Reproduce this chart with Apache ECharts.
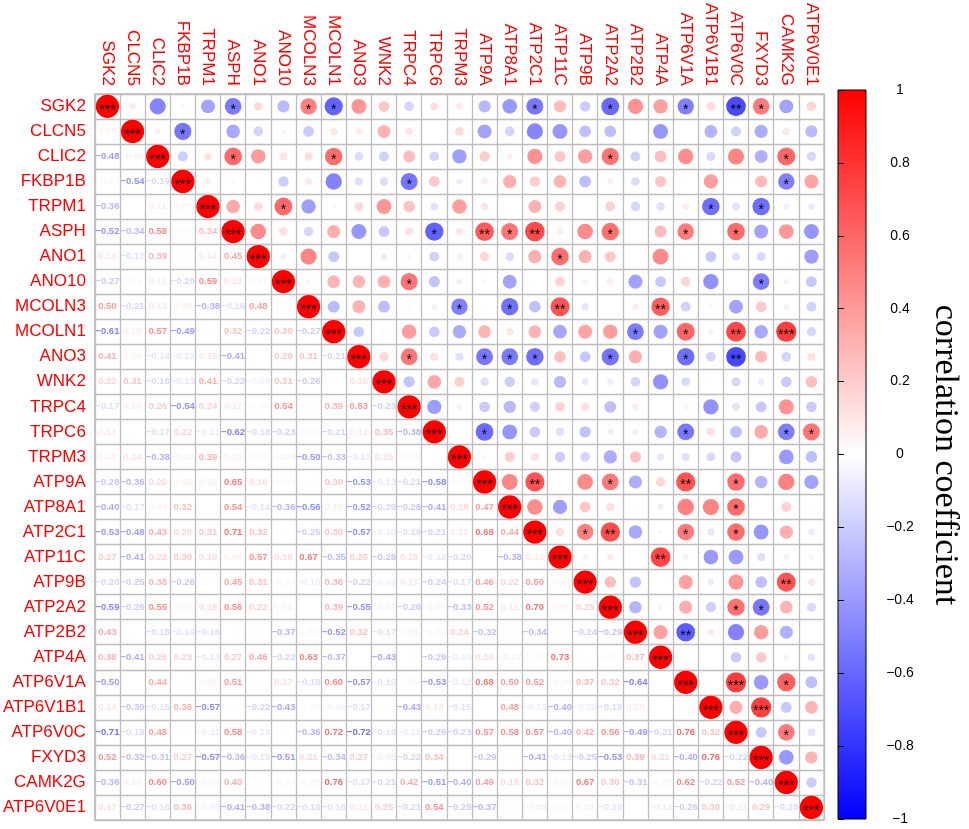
<!DOCTYPE html>
<html>
<head>
<meta charset="utf-8">
<script src="https://cdn.jsdelivr.net/npm/echarts@6/dist/echarts.min.js"></script>
<style>
  html, body { margin: 0; padding: 0; background: #ffffff; }
  #chart { width: 969px; height: 829px; }
</style>
</head>
<body>
<div id="chart"></div>
<script>
// ---------- data ----------
const vars = ['SGK2','CLCN5','CLIC2','FKBP1B','TRPM1','ASPH','ANO1','ANO10','MCOLN3','MCOLN1',
  'ANO3','WNK2','TRPC4','TRPC6','TRPM3','ATP9A','ATP8A1','ATP2C1','ATP11C','ATP9B',
  'ATP2A2','ATP2B2','ATP4A','ATP6V1A','ATP6V1B1','ATP6V0C','FXYD3','CAMK2G','ATP6V0E1'];

// lower triangle: correlation of each row variable with the preceding variables
const SGK2 = [];
const CLCN5 = [0.08];
const CLIC2 = [-0.48, -0.06];
const FKBP1B = [-0.04, -0.54, -0.19];
const TRPM1 = [-0.36, 0.01, 0.11, 0.07];
const ASPH = [-0.52, -0.34, 0.58, -0.03, 0.34];
const ANO1 = [0.14, -0.17, 0.39, 0.02, 0.14, 0.45];
const ANO10 = [-0.27, 0.05, 0.11, -0.20, 0.59, 0.13, 0.07];
const MCOLN3 = [0.50, -0.21, 0.13, 0.09, -0.38, -0.16, 0.48, 0.05];
const MCOLN1 = [-0.61, 0.10, 0.57, -0.49, 0.03, 0.32, -0.22, 0.30, -0.27];
const ANO3 = [0.41, 0.08, -0.14, -0.12, 0.15, -0.41, 0.01, 0.29, 0.31, -0.21];
const WNK2 = [0.22, 0.31, -0.18, -0.13, 0.41, -0.22, -0.08, 0.31, -0.26, 0.03, 0.16];
const TRPC4 = [-0.17, 0.10, 0.26, -0.54, 0.24, 0.12, -0.04, 0.54, 0.03, 0.39, 0.53, -0.23];
const TRPC6 = [0.13, 0.01, -0.17, 0.22, -0.11, -0.62, -0.18, -0.23, -0.05, -0.21, 0.12, 0.35, -0.38];
const TRPM3 = [0.09, 0.14, -0.38, -0.07, 0.39, 0.10, 0.07, -0.06, -0.50, -0.33, -0.12, 0.19, -0.05, 0.01];
const ATP9A = [-0.28, -0.36, 0.20, 0.08, 0.10, 0.65, 0.16, -0.04, -0.02, 0.30, -0.53, -0.13, -0.21, -0.58, -0.04];
const ATP8A1 = [-0.40, -0.17, 0.07, 0.32, 0.01, 0.54, -0.14, -0.36, -0.56, 0.10, -0.52, -0.20, -0.28, -0.41, 0.19, 0.47];
const ATP2C1 = [-0.53, -0.48, 0.43, 0.20, 0.31, 0.71, 0.32, -0.01, -0.25, 0.30, -0.57, -0.10, -0.19, -0.21, 0.12, 0.68, 0.44];
const ATP11C = [0.27, -0.41, 0.22, 0.30, 0.19, 0.08, 0.57, 0.18, 0.67, -0.35, 0.25, -0.28, 0.18, -0.12, -0.20, 0.01, -0.38, 0.13];
const ATP9B = [-0.20, -0.25, 0.38, -0.26, 0.01, 0.45, 0.31, -0.05, -0.10, 0.36, -0.22, -0.09, 0.13, -0.24, -0.17, 0.46, 0.22, 0.50, 0.06];
const ATP2A2 = [-0.59, -0.26, 0.55, 0.07, 0.18, 0.56, 0.22, 0.08, 0.01, 0.39, -0.55, -0.07, -0.26, -0.07, -0.33, 0.52, 0.12, 0.70, 0.08, 0.25];
const ATP2B2 = [0.43, 0.01, -0.18, -0.14, -0.16, 0.01, -0.01, -0.37, 0.07, -0.52, 0.32, -0.17, 0.08, -0.06, 0.24, -0.32, 0.02, -0.34, 0.01, -0.24, -0.29];
const ATP4A = [0.38, -0.41, 0.26, 0.23, -0.13, 0.27, 0.46, -0.22, 0.63, -0.37, 0.01, -0.43, 0.01, -0.29, -0.10, 0.16, -0.07, 0.04, 0.73, -0.01, 0.05, 0.37];
const ATP6V1A = [-0.50, 0.01, 0.44, 0.02, 0.08, 0.51, -0.02, 0.17, -0.18, 0.60, -0.57, -0.15, 0.05, -0.53, -0.12, 0.68, 0.50, 0.52, -0.06, 0.37, 0.32, -0.64, 0.01];
const ATP6V1B1 = [0.14, -0.30, -0.15, 0.38, -0.57, -0.02, -0.22, -0.43, -0.04, -0.06, -0.17, 0.02, -0.43, 0.13, -0.15, 0.01, 0.48, -0.10, -0.40, -0.08, -0.19, 0.09, 0.01, -0.02];
const ATP6V0C = [-0.71, -0.18, 0.48, 0.02, -0.11, 0.58, -0.13, -0.01, -0.36, 0.72, -0.72, -0.16, -0.11, -0.26, -0.23, 0.57, 0.58, 0.57, -0.40, 0.42, 0.56, -0.49, -0.21, 0.76, 0.32];
const FXYD3 = [0.52, -0.32, -0.31, 0.27, -0.57, -0.36, -0.15, -0.51, 0.21, -0.34, 0.27, -0.08, -0.22, 0.34, 0.01, -0.29, 0.01, -0.41, -0.13, -0.25, -0.53, 0.39, 0.21, -0.40, 0.76, -0.22];
const CAMK2G = [-0.36, 0.10, 0.60, -0.50, -0.06, 0.40, -0.02, -0.05, -0.05, 0.76, -0.17, -0.21, 0.42, -0.51, -0.40, 0.49, 0.18, 0.32, -0.06, 0.67, 0.30, -0.31, -0.05, 0.62, -0.22, 0.52, -0.40];
const ATP6V0E1 = [0.17, -0.27, -0.16, 0.36, -0.08, -0.41, -0.38, -0.22, -0.18, -0.16, 0.12, 0.25, -0.21, 0.54, -0.25, -0.37, 0.02, -0.08, 0.05, 0.10, -0.15, 0.01, -0.11, -0.26, 0.30, -0.11, 0.29, -0.20];

const lowerRows = [SGK2, CLCN5, CLIC2, FKBP1B, TRPM1, ASPH, ANO1, ANO10, MCOLN3, MCOLN1,
  ANO3, WNK2, TRPC4, TRPC6, TRPM3, ATP9A, ATP8A1, ATP2C1, ATP11C, ATP9B,
  ATP2A2, ATP2B2, ATP4A, ATP6V1A, ATP6V1B1, ATP6V0C, FXYD3, CAMK2G, ATP6V0E1];

// significance marks in the upper triangle: [row, column] (1-based), label
const stars = [
  [1,6,'*'],[1,9,'*'],[1,10,'*'],[1,18,'*'],[1,21,'*'],[1,24,'*'],[1,26,'**'],[1,27,'*'],
  [2,4,'*'],
  [3,6,'*'],[3,10,'*'],[3,21,'*'],[3,28,'*'],
  [4,13,'*'],[4,28,'*'],
  [5,8,'*'],[5,25,'*'],[5,27,'*'],
  [6,14,'*'],[6,16,'**'],[6,17,'*'],[6,18,'**'],[6,21,'*'],[6,24,'*'],[6,26,'*'],
  [7,19,'*'],
  [8,13,'*'],[8,27,'*'],
  [9,15,'*'],[9,17,'*'],[9,19,'**'],[9,23,'**'],
  [10,22,'*'],[10,24,'*'],[10,26,'**'],[10,28,'***'],
  [11,13,'*'],[11,16,'*'],[11,17,'*'],[11,18,'*'],[11,21,'*'],[11,24,'*'],[11,26,'**'],
  [14,16,'*'],[14,24,'*'],[14,28,'*'],[14,29,'*'],
  [16,18,'**'],[16,21,'*'],[16,24,'**'],[16,26,'*'],
  [17,26,'*'],
  [18,20,'*'],[18,21,'**'],[18,24,'*'],[18,26,'*'],
  [19,23,'**'],
  [20,28,'**'],
  [21,26,'*'],[21,27,'*'],
  [22,24,'**'],
  [24,26,'***'],[24,28,'*'],
  [25,27,'***'],
  [26,28,'*']
];
const diagValue = 1;
const diagStars = '***';
const colorbarTicks = [-1, -0.8, -0.6, -0.4, -0.2, 0, 0.2, 0.4, 0.6, 0.8, 1];

// ---------- helpers ----------
function colorFor(v) {
  const t = Math.min(1, Math.abs(v));
  const c = Math.round(255 * (1 - t));
  return v >= 0 ? 'rgb(255,' + c + ',' + c + ')' : 'rgb(' + c + ',' + c + ',255)';
}
function fmt(v) {
  return (v < 0 ? '\u2212' : '') + Math.abs(v).toFixed(2);
}
function corr(i, j) {
  if (i === j) return diagValue;
  return i > j ? lowerRows[i][j] : lowerRows[j][i];
}
const starMap = {};
stars.forEach(s => { starMap[(s[0] - 1) + '-' + (s[1] - 1)] = s[2]; });

const upperData = [];
const lowerData = [];
for (let i = 0; i < vars.length; i++) {
  for (let j = 0; j < vars.length; j++) {
    const v = corr(i, j);
    if (j >= i) {
      upperData.push({
        value: [vars[j], vars[i], v],
        mark: i === j ? diagStars : (starMap[i + '-' + j] || '')
      });
    } else {
      lowerData.push({
        value: [vars[j], vars[i], v],
        label: { color: colorFor(v) }
      });
    }
  }
}

const N = vars.length;
const gridLeft = 94, gridTop = 90, gridSize = 730;
const cell = gridSize / N;

const chart = echarts.init(document.getElementById('chart'), null, { renderer: 'canvas' });
chart.setOption({
  animation: false,
  backgroundColor: '#ffffff',
  grid: [
    { left: gridLeft, top: gridTop, width: gridSize, height: gridSize,
      show: true, borderColor: '#bdbdbd', borderWidth: 1.3 },
    { left: 838, top: 90, width: 28, height: 729, show: true,
      borderColor: '#000000', borderWidth: 1,
      backgroundColor: { type: 'linear', x: 0, y: 0, x2: 0, y2: 1,
        colorStops: [ { offset: 0, color: '#ff0000' }, { offset: 0.5, color: '#ffffff' }, { offset: 1, color: '#0000ff' } ] } }
  ],
  xAxis: [
    { type: 'category', data: vars, position: 'top', gridIndex: 0,
      axisLine: { show: false }, axisTick: { show: false },
      axisLabel: { interval: 0, rotate: 90, color: '#ff0000', fontSize: 17,
        fontFamily: 'Liberation Sans, Arial, sans-serif', margin: 8 },
      splitLine: { show: true, interval: 0, lineStyle: { color: '#bdbdbd', width: 1.3 } } },
    { type: 'value', gridIndex: 1, show: false, min: 0, max: 1 }
  ],
  yAxis: [
    { type: 'category', data: vars, inverse: true, gridIndex: 0,
      axisLine: { show: false }, axisTick: { show: false },
      axisLabel: { interval: 0, color: '#ff0000', fontSize: 17,
        fontFamily: 'Liberation Sans, Arial, sans-serif', margin: 9 },
      splitLine: { show: true, interval: 0, lineStyle: { color: '#bdbdbd', width: 1.3 } } },
    { type: 'value', gridIndex: 1, min: -1, max: 1, interval: 0.2, position: 'right',
      axisLine: { show: false },
      axisTick: { show: true, length: 6, lineStyle: { color: '#000000', width: 1 } },
      splitLine: { show: false },
      axisLabel: { color: '#000000', fontSize: 14, fontFamily: 'Liberation Sans, Arial, sans-serif',
        margin: 34, align: 'center',
        formatter: function (v) {
          const r = Math.round(v * 10) / 10;
          if (colorbarTicks.indexOf(r) < 0) return '';
          return r === 0 ? '0' : (r < 0 ? '\u2212' : '') + String(Math.abs(r));
        } } }
  ],
  series: [
    {
      type: 'scatter', xAxisIndex: 0, yAxisIndex: 0, silent: true,
      data: upperData,
      symbol: 'circle',
      symbolSize: function (val) { return 0.925 * cell * Math.sqrt(Math.abs(val[2])); },
      itemStyle: { color: function (p) { return colorFor(p.value[2]); }, opacity: 1 },
      label: { show: true, position: 'inside', offset: [0, 3.5], color: '#000000', fontSize: 14,
        fontFamily: 'Liberation Sans, Arial, sans-serif',
        formatter: function (p) { return p.data.mark; } },
      emphasis: { disabled: true }
    },
    {
      type: 'scatter', xAxisIndex: 0, yAxisIndex: 0, silent: true,
      data: lowerData,
      symbol: 'circle', symbolSize: 1,
      itemStyle: { color: 'rgba(255,255,255,0)' },
      label: { show: true, position: 'inside', fontSize: 9.5, fontWeight: 'bold',
        fontFamily: 'Liberation Sans, Arial, sans-serif',
        formatter: function (p) { return fmt(p.value[2]); } },
      emphasis: { disabled: true }
    }
  ],
  graphic: [
    { type: 'text', x: 945, y: 455, rotation: -Math.PI / 2,
      style: { text: 'correlation coefficient', font: '34px "Liberation Serif", "Times New Roman", serif',
        fill: '#000000', textAlign: 'center', textVerticalAlign: 'middle' } }
  ]
});
</script>
</body>
</html>
